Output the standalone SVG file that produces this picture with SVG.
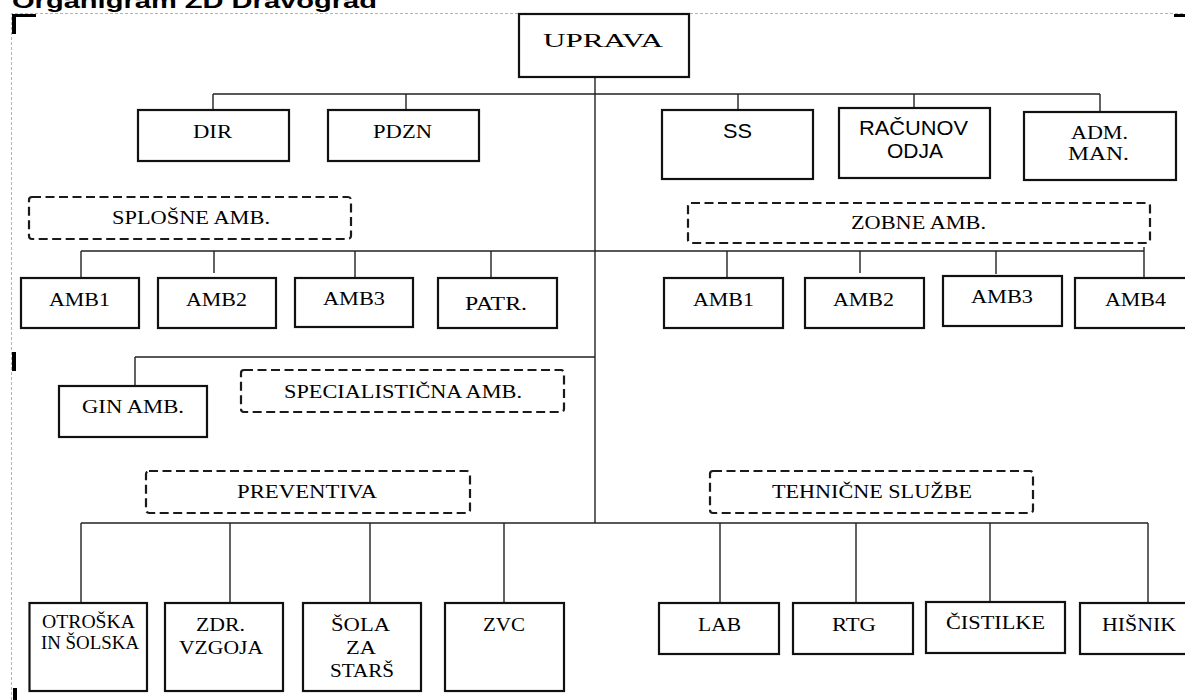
<svg xmlns="http://www.w3.org/2000/svg" width="1185" height="700" viewBox="0 0 1185 700">
<style>
.bg{fill:#ffffff}
.frame{fill:none;stroke:#b4b4b4;stroke-width:1;stroke-dasharray:3 2}
.mark{fill:#000000}
.box{fill:#ffffff;stroke:#111111;stroke-width:2.2}
.dbox{fill:#ffffff;stroke:#1a1a1a;stroke-width:2.2;stroke-dasharray:9 4.5}
.conn{fill:none;stroke:#222222;stroke-width:1.4}
.t{font-family:"Liberation Serif","Times New Roman",serif;font-size:19px;fill:#000000}
.ts{font-family:"Liberation Sans",Arial,sans-serif;font-size:20px;fill:#000000}
.title{font-family:"Liberation Sans",Arial,sans-serif;font-size:21px;font-weight:bold;fill:#000000}
</style>
<rect class="bg" x="0" y="0" width="1185" height="700"/>
<text class="title" x="12" y="8" textLength="365" lengthAdjust="spacingAndGlyphs">Organigram ZD Dravograd</text>
<path class="frame" d="M11.5,700 V13.5 H1185"/>
<g id="marks">
<path class="mark" d="M12,14 H36 V17 H16 V34 H12 Z"/>
<rect class="mark" x="594" y="14" width="23" height="3"/>
<rect class="mark" x="1174" y="14" width="11" height="3"/>
<rect class="mark" x="12" y="352" width="4" height="19"/>
<rect class="mark" x="13" y="688" width="4" height="12"/>
</g>
<g id="connectors">
<path class="conn" d="M595,77 V523"/>
<path class="conn" d="M213,94 H1100 M213,94 V110 M406,94 V110 M738,94 V110 M914,94 V108 M1100,94 V112"/>
<path class="conn" d="M81,251 H1144 M81,251 V278 M214,251 V273 M355,251 V278 M491,251 V278 M727,251 V278 M860,251 V273 M996,251 V274 M1144,247 V278"/>
<path class="conn" d="M135,357 H595 M135,357 V386"/>
<path class="conn" d="M81,523 H1148 M81,523 V603 M230,523 V603 M370,523 V603 M504,523 V603 M720,523 V603 M856,523 V603 M990,523 V602 M1148,523 V603"/>
</g>
<g id="uprava"><rect class="box" x="519" y="14" width="170" height="63"/><text class="t" x="543" y="47" font-size="25" textLength="120" lengthAdjust="spacingAndGlyphs">UPRAVA</text></g>
<g id="dir"><rect class="box" x="138" y="110" width="151" height="51"/><text class="t" x="193" y="138" textLength="39" lengthAdjust="spacingAndGlyphs">DIR</text></g>
<g id="pdzn"><rect class="box" x="328" y="110" width="151" height="51"/><text class="t" x="373" y="138" textLength="59" lengthAdjust="spacingAndGlyphs">PDZN</text></g>
<g id="ss"><rect class="box" x="662" y="110" width="151" height="69"/><text class="ts" x="723" y="138" textLength="29" lengthAdjust="spacingAndGlyphs">SS</text></g>
<g id="racunov"><rect class="box" x="839" y="108" width="151" height="70"/><text class="ts" x="859" y="135" textLength="109" lengthAdjust="spacingAndGlyphs">RAČUNOV</text><text class="ts" x="887" y="158" textLength="56" lengthAdjust="spacingAndGlyphs">ODJA</text></g>
<g id="adm"><rect class="box" x="1024" y="112" width="152" height="68"/><text class="t" x="1071" y="139" textLength="57" lengthAdjust="spacingAndGlyphs">ADM.</text><text class="t" x="1068" y="160" textLength="61" lengthAdjust="spacingAndGlyphs">MAN.</text></g>
<g id="splosne"><rect class="dbox" x="29" y="197" width="322" height="42" rx="3"/><text class="t" x="112" y="224" textLength="158" lengthAdjust="spacingAndGlyphs">SPLOŠNE AMB.</text></g>
<g id="zobne"><rect class="dbox" x="688" y="203" width="462" height="40" rx="3"/><text class="t" x="851" y="229" textLength="135" lengthAdjust="spacingAndGlyphs">ZOBNE AMB.</text></g>
<g id="amb1-s"><rect class="box" x="21" y="278" width="118" height="50"/><text class="t" x="49" y="306" textLength="61" lengthAdjust="spacingAndGlyphs">AMB1</text></g>
<g id="amb2-s"><rect class="box" x="158" y="278" width="118" height="50"/><text class="t" x="186" y="306" textLength="61" lengthAdjust="spacingAndGlyphs">AMB2</text></g>
<g id="amb3-s"><rect class="box" x="295" y="278" width="118" height="49"/><text class="t" x="323" y="305" textLength="62" lengthAdjust="spacingAndGlyphs">AMB3</text></g>
<g id="patr"><rect class="box" x="438" y="278" width="119" height="50"/><text class="t" x="465" y="310" textLength="62" lengthAdjust="spacingAndGlyphs">PATR.</text></g>
<g id="amb1-z"><rect class="box" x="664" y="278" width="119" height="50"/><text class="t" x="693" y="306" textLength="61" lengthAdjust="spacingAndGlyphs">AMB1</text></g>
<g id="amb2-z"><rect class="box" x="805" y="278" width="119" height="50"/><text class="t" x="833" y="306" textLength="61" lengthAdjust="spacingAndGlyphs">AMB2</text></g>
<g id="amb3-z"><rect class="box" x="943" y="276" width="119" height="50"/><text class="t" x="971" y="303" textLength="62" lengthAdjust="spacingAndGlyphs">AMB3</text></g>
<g id="amb4-z"><rect class="box" x="1075" y="278" width="120" height="50"/><text class="t" x="1105" y="306" textLength="61" lengthAdjust="spacingAndGlyphs">AMB4</text></g>
<g id="gin"><rect class="box" x="59" y="386" width="148" height="51"/><text class="t" x="82" y="413" textLength="102" lengthAdjust="spacingAndGlyphs">GIN AMB.</text></g>
<g id="specialisticna"><rect class="dbox" x="241" y="370" width="323" height="42" rx="3"/><text class="t" x="284" y="398" textLength="238" lengthAdjust="spacingAndGlyphs">SPECIALISTIČNA AMB.</text></g>
<g id="preventiva"><rect class="dbox" x="146" y="471" width="324" height="42" rx="3"/><text class="t" x="237" y="498" textLength="140" lengthAdjust="spacingAndGlyphs">PREVENTIVA</text></g>
<g id="tehnicne"><rect class="dbox" x="710" y="471" width="323" height="42" rx="3"/><text class="t" x="772" y="498" textLength="200" lengthAdjust="spacingAndGlyphs">TEHNIČNE SLUŽBE</text></g>
<g id="otroska"><rect class="box" x="29.5" y="603" width="117.5" height="88"/><text class="t" x="42" y="628" textLength="93" lengthAdjust="spacingAndGlyphs">OTROŠKA</text><text class="t" x="41" y="649" textLength="98" lengthAdjust="spacingAndGlyphs">IN ŠOLSKA</text></g>
<g id="zdr"><rect class="box" x="165" y="603" width="118" height="88"/><text class="t" x="196" y="631" textLength="49" lengthAdjust="spacingAndGlyphs">ZDR.</text><text class="t" x="179" y="654" textLength="84" lengthAdjust="spacingAndGlyphs">VZGOJA</text></g>
<g id="sola"><rect class="box" x="303" y="603" width="118" height="88"/><text class="t" x="331" y="631" textLength="59" lengthAdjust="spacingAndGlyphs">ŠOLA</text><text class="t" x="346" y="654" textLength="30" lengthAdjust="spacingAndGlyphs">ZA</text><text class="t" x="330" y="677" textLength="64" lengthAdjust="spacingAndGlyphs">STARŠ</text></g>
<g id="zvc"><rect class="box" x="445" y="603" width="119" height="88"/><text class="t" x="483" y="631" textLength="42" lengthAdjust="spacingAndGlyphs">ZVC</text></g>
<g id="lab"><rect class="box" x="659" y="603" width="120" height="51"/><text class="t" x="698" y="631" textLength="43" lengthAdjust="spacingAndGlyphs">LAB</text></g>
<g id="rtg"><rect class="box" x="793" y="603" width="120" height="51"/><text class="t" x="832" y="631" textLength="44" lengthAdjust="spacingAndGlyphs">RTG</text></g>
<g id="cistilke"><rect class="box" x="926" y="602" width="139" height="51"/><text class="t" x="946" y="629" textLength="99" lengthAdjust="spacingAndGlyphs">ČISTILKE</text></g>
<g id="hisnik"><rect class="box" x="1080" y="603" width="115" height="51"/><text class="t" x="1102" y="631" textLength="74" lengthAdjust="spacingAndGlyphs">HIŠNIK</text></g>
</svg>
